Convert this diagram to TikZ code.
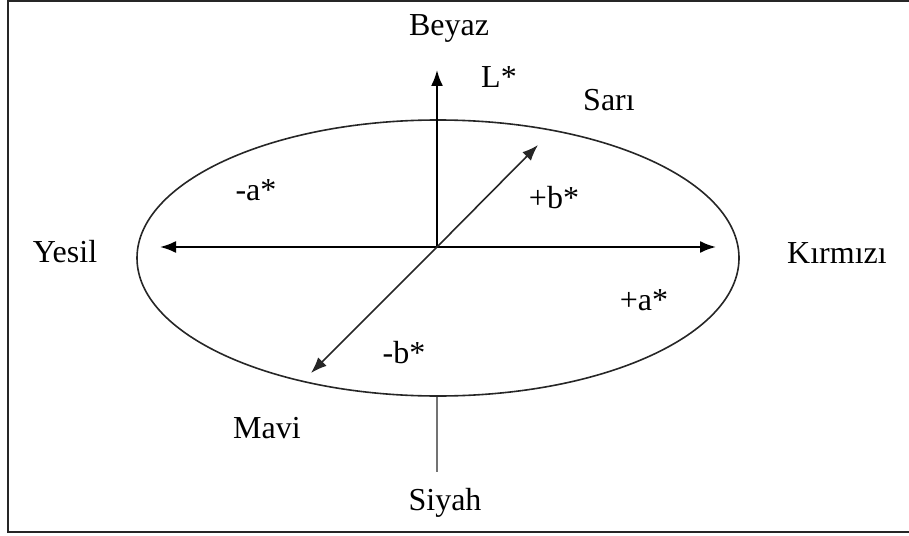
\documentclass[tikz,border=0pt]{standalone}
\usepackage{fontspec}
\setmainfont{Liberation Serif}
\usetikzlibrary{arrows.meta, positioning}

\begin{document}
\begin{tikzpicture}[
  x=0.5pt, y=-0.5pt,
  axis/.style={-{Latex[length=8pt, width=6pt]}, line width=1pt, black},
  diag/.style={-{Latex[length=8pt, width=6pt]}, line width=0.8pt, black!85},
  lbl/.style={inner sep=0pt, font=\fontsize{16}{19}\selectfont}
]
  \useasboundingbox (0,0) rectangle (909,535);
  % frame (right side cut off)
  \draw[line width=1.1pt, black!85] (909,1) -- (8,1) -- (8,532) -- (909,532);

  \draw[line width=0.8pt, black!85] (438,258) ellipse [x radius=301, y radius=138];

  \coordinate (O) at (437,247);
  \coordinate (Ltip) at (437,70);
  \coordinate (Gtip) at (160,247);
  \coordinate (Rtip) at (716,247);
  \coordinate (Bplus) at (538,145);
  \coordinate (Bminus) at (311,373);
  \coordinate (Stop) at (437,397);
  \coordinate (Sbot) at (437,472);

  \draw[axis] (O) -- (Ltip);
  \draw[axis] (O) -- (Gtip);
  \draw[axis] (O) -- (Rtip);
  \draw[diag] (O) -- (Bplus);
  \draw[diag] (O) -- (Bminus);
  \draw[line width=0.8pt, black!55] (Stop) -- (Sbot);

  \node[lbl] (beyaz) at (449,28) {Beyaz};
  \node[lbl] (lstar) at (499,77) {L*};
  \node[lbl] (sari) at (609,100) {Sarı};
  \node[lbl] (aminus) at (256,190) {-a*};
  \node[lbl] (bplus) at (554,198) {+b*};
  \node[lbl] (yesil) at (65,252) {Yesil};
  \node[lbl] (kirmizi) at (837,253) {Kırmızı};
  \node[lbl] (aplus) at (644,300) {+a*};
  \node[lbl] (bminus) at (404,353) {-b*};
  \node[lbl] (mavi) at (267,428) {Mavi};
  \node[lbl] (siyah) at (445,503) {Siyah};
\end{tikzpicture}
\end{document}
